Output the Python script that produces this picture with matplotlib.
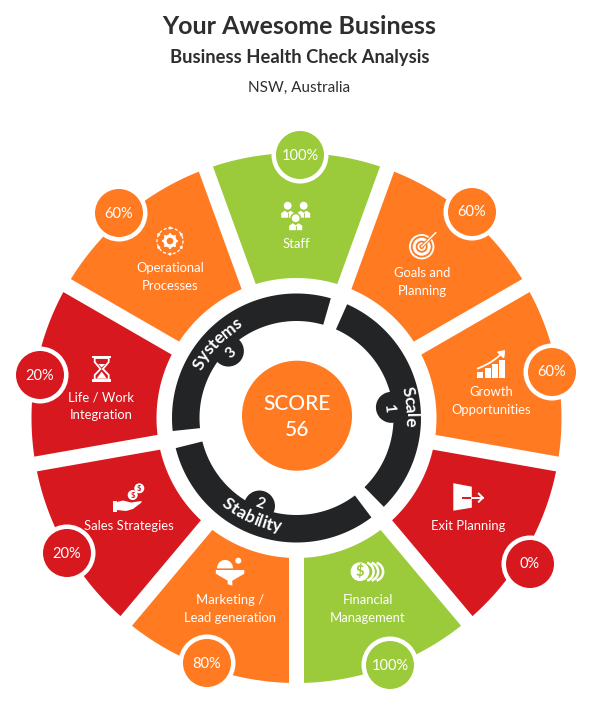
import numpy as np
import matplotlib
matplotlib.use('Agg')
import matplotlib.pyplot as plt
from matplotlib.patches import Circle, Polygon, Rectangle, Arc, FancyArrowPatch
from matplotlib.textpath import TextPath
from matplotlib.font_manager import FontProperties

plt.rcParams['font.family'] = ['Lato', 'DejaVu Sans']

title = 'Your Awesome Business'
subtitle = 'Business Health Check Analysis'
location = 'NSW, Australia'
score = 56

segment_names = ['Staff', 'Goals and\nPlanning', 'Growth\nOpportunities', 'Exit Planning',
                 'Financial\nManagement', 'Marketing /\nLead generation', 'Sales Strategies',
                 'Life / Work\nIntegration', 'Operational\nProcesses']
segment_scores = [100, 60, 60, 0, 100, 80, 20, 20, 60]
ring_names = ['Scale', 'Stability', 'Systems']
ring_numbers = ['1', '2', '3']

ORANGE = '#FF7A21'
GREEN = '#9BCB3B'
RED = '#D7181F'
DARK = '#222426'
TXT = '#2E2E2E'

# layout in pixels
cx, cy = 296.5, 418
label_pos = [(296, 244), (422, 282), (491, 401.5), (468, 526), (368, 608.5),
             (230, 608.5), (129, 526), (101.5, 406), (170.5, 277)]
badge_pos = [(300, 155), (472, 212), (552, 372), (530, 564), (390, 665),
             (207, 663), (67, 553), (40, 375), (119, 213)]
ring_spans = [(24, 135.5), (143, 256), (264, 376)]
ring_text_ang = [84, 204.5, 313]
ring_text_r = [114, 110, 111]
bump_ang = [83.6, 202.8, 314.5]


def pt(r, ang):
    a = np.radians(ang)
    return cx + r * np.sin(a), cy - r * np.cos(a)


def colour_for(v):
    if v <= 20:
        return RED
    if v <= 80:
        return ORANGE
    return GREEN


fig = plt.figure(figsize=(5.96, 7.10), dpi=100)
ax = fig.add_axes([0, 0, 1, 1])
ax.set_xlim(0, 596)
ax.set_ylim(710, 0)
ax.axis('off')

ax.text(299.5, 26.5, title, ha='center', va='center', fontsize=18, fontweight='bold', color=TXT)
ax.text(299.5, 58, subtitle, ha='center', va='center', fontsize=13.2, fontweight='bold', color=TXT)
ax.text(299.5, 88, location, ha='center', va='center', fontsize=11, color=TXT)

# outer segments, gaps between them keep a constant width
R_out, R_in, gap = 265, 140, 7.5
for i, v in enumerate(segment_scores):
    c = i * 40
    a_o = 20 - np.degrees(np.arcsin(gap / R_out))
    a_i = 20 - np.degrees(np.arcsin(gap / R_in))
    outer = [pt(R_out, t) for t in np.linspace(c - a_o, c + a_o, 40)]
    inner = [pt(R_in, t) for t in np.linspace(c + a_i, c - a_i, 30)]
    ax.add_patch(Polygon(outer + inner, closed=True, fc=colour_for(v), ec='none', zorder=1))

for i, name in enumerate(segment_names):
    x, y = label_pos[i]
    ax.text(x, y, name, ha='center', va='center', fontsize=9.4, color='white',
            linespacing=1.6, zorder=3)

for i, v in enumerate(segment_scores):
    x, y = badge_pos[i]
    ax.add_patch(Circle((x, y), 28.5, fc='white', ec='none', zorder=4))
    ax.add_patch(Circle((x, y), 24, fc=colour_for(v), ec='none', zorder=5))
    ax.text(x, y + 0.5, f'{v}%', ha='center', va='center', fontsize=10.5, color='white', zorder=6)

# black ring
rr_out, rr_in = 124.5, 97
for a0, a1 in ring_spans:
    outer = [pt(rr_out, t) for t in np.linspace(a0, a1, 80)]
    inner = [pt(rr_in, t) for t in np.linspace(a1, a0, 80)]
    ax.add_patch(Polygon(outer + inner, closed=True, fc=DARK, ec='none', zorder=2))


def curved_text(s, mid_ang, r, clockwise=True, size=12.5):
    # lay the letters out one by one along the ring
    prop = FontProperties(family='Lato', weight='bold')
    px = size * 100 / 72
    right = [TextPath((0, 0), s[:k + 1], size=px, prop=prop).get_extents().x1 for k in range(len(s))]
    total = right[-1]
    for k, ch in enumerate(s):
        w = TextPath((0, 0), ch, size=px, prop=prop).get_extents().width
        off = right[k] - w / 2 - total / 2
        d = np.degrees(off / r)
        if clockwise:
            ang = mid_ang + d
            rot = -ang
        else:
            ang = mid_ang - d
            rot = 180 - ang
        x, y = pt(r, ang)
        ax.text(x, y, ch, ha='center', va='center', rotation=rot, rotation_mode='anchor',
                fontsize=size, fontweight='bold', color='white', zorder=7)


curved_text(ring_names[0], ring_text_ang[0], ring_text_r[0])
curved_text(ring_names[1], ring_text_ang[1], ring_text_r[1], clockwise=False)
curved_text(ring_names[2], ring_text_ang[2], ring_text_r[2])

num_rot = [-84, -20, 43]
num_off = [93, 93, 92]
for i, n in enumerate(ring_numbers):
    x, y = pt(95.5, bump_ang[i])
    ax.add_patch(Circle((x, y), 15.5, fc=DARK, ec='none', zorder=2))
    nx, ny = pt(num_off[i], bump_ang[i])
    ax.text(nx, ny, n, ha='center', va='center', rotation=num_rot[i], rotation_mode='anchor',
            fontsize=11, fontweight='bold', color='white', zorder=7)

# score
ax.add_patch(Circle((297, 415.7), 55, fc=ORANGE, ec='none', zorder=2))
ax.text(297, 404.5, 'SCORE', ha='center', va='center', fontsize=15, fontweight='medium', color='white', zorder=3)
ax.text(297, 429.5, str(score), ha='center', va='center', fontsize=15, fontweight='medium', color='white', zorder=3)


# icons
def disc(x, y, r, c='white', z=3):
    ax.add_patch(Circle((x, y), r, fc=c, ec='none', zorder=z))


def person(x, y, bg):
    disc(x, y, 3.9)
    body = [(x - 6.5, y + 12), (x - 6.5, y + 7.5), (x - 3, y + 5), (x, y + 7), (x + 3, y + 5),
            (x + 6.5, y + 7.5), (x + 6.5, y + 12)]
    ax.add_patch(Polygon(body, fc='white', ec='none', zorder=3))
    ax.plot([x, x], [y + 7.5, y + 12], color=bg, lw=0.6, zorder=3)


def icon_staff(x, y, bg):
    person(x - 8, y - 11, bg)
    person(x + 8, y - 11, bg)
    disc(x, y + 1.5, 5.5, bg)
    ax.add_patch(Rectangle((x - 8, y + 5), 16, 9, fc=bg, ec='none', zorder=3))
    person(x, y + 1.5, bg)


def icon_target(x, y, bg):
    for r, c in [(12.7, 'white'), (10.8, bg), (9, 'white'), (6, bg), (4.2, 'white'), (2.2, bg)]:
        disc(x, y, r, c)
    ax.plot([x, x + 13], [y, y - 13], color=bg, lw=2.6, zorder=3)
    ax.plot([x, x + 14], [y, y - 14], color='white', lw=1.1, zorder=3)


def icon_gear(x, y, bg):
    ax.add_patch(Circle((x, y), 13, fc='none', ec='white', lw=0.9, ls=(0, (2.5, 1.5)), zorder=3))
    for t in range(0, 360, 60):
        px, py = x + 13 * np.sin(np.radians(t)), y - 13 * np.cos(np.radians(t))
        disc(px, py, 1.5)
    ax.add_patch(Circle((x, y), 5, fc='none', ec='white', lw=2.4, zorder=3))
    for t in range(0, 360, 45):
        px, py = x + 7 * np.sin(np.radians(t)), y - 7 * np.cos(np.radians(t))
        disc(px, py, 1.1)


def icon_growth(x, y, bg):
    offs = [(-14.4, 6.7), (-6.7, 3.3), (0.6, -1), (7.6, -5)]
    for dx, top in offs:
        ax.add_patch(Rectangle((x + dx, y + top), 5.6, 13.3 - top, fc='white', ec='none', zorder=3))
    ax.add_patch(FancyArrowPatch((x - 14, y + 3.5), (x + 13.5, y - 15), connectionstyle='arc3,rad=0.12',
                                 arrowstyle='-|>,head_length=3.5,head_width=2.6', color='white',
                                 lw=1.3, shrinkA=0, shrinkB=0, zorder=3))


def icon_exit(x, y, bg):
    door = [(x - 10, y - 14.5), (x + 8.5, y - 11), (x + 8.5, y + 10), (x - 10, y + 13)]
    ax.add_patch(Polygon(door, fc='white', ec='none', zorder=3))
    ax.plot([x - 1, x + 8.5], [y, y], color=bg, lw=1.4, zorder=3, solid_capstyle='butt')
    ax.plot([x + 8.5, x + 19.5], [y, y], color='white', lw=1.4, zorder=3)
    ax.plot([x + 15.5, x + 19.5, x + 15.5], [y - 4, y, y + 4], color='white', lw=1.4, zorder=3)


def icon_money(x, y, bg):
    disc(x - 6.7, y, 9.4)
    ax.text(x - 6.7, y - 0.3, '$', ha='center', va='center', fontsize=10.5, fontweight='bold', color=bg, zorder=4)
    for dx in [-2.5, 2, 7]:
        ax.add_patch(Arc((x + dx, y), 18.8, 18.8, theta1=-72, theta2=72, ec='white', lw=1.8, zorder=3))


def icon_hourglass(x, y, bg):
    ax.add_patch(Rectangle((x - 9.7, y - 13.5), 19.4, 2.6, fc='white', ec='none', zorder=3))
    ax.add_patch(Rectangle((x - 9.7, y + 10.2), 19.4, 2.5, fc='white', ec='none', zorder=3))
    glass = [(x - 7, y - 11), (x - 7, y - 7), (x - 1.2, y), (x - 7, y + 6), (x - 7, y + 10.5),
             (x + 7, y + 10.5), (x + 7, y + 6), (x + 1.2, y), (x + 7, y - 7), (x + 7, y - 11)]
    ax.add_patch(Polygon(glass, fc='none', ec='white', lw=1.3, zorder=3))
    ax.add_patch(Polygon([(x - 5, y + 9.5), (x, y + 2.5), (x + 5, y + 9.5)], fc='white', ec='none', zorder=3))
    ax.add_patch(Polygon([(x - 3.5, y - 5), (x + 3.5, y - 5), (x, y - 1.5)], fc='white', ec='none', zorder=3))


def icon_hand(x, y, bg):
    ax.add_patch(Rectangle((x - 15.5, y + 3), 4, 10.5, fc='white', ec='none', zorder=3))
    hand = [(x - 11, y + 4), (x - 5, y + 2.5), (x + 3, y + 4.5), (x + 13.5, y + 3), (x + 13.5, y + 4.5),
            (x + 5, y + 11), (x - 2, y + 13), (x - 11, y + 12)]
    ax.add_patch(Polygon(hand, fc='white', ec='none', zorder=3))
    for dx, dy in [(4.7, -3), (11.3, -9.7)]:
        disc(x + dx, y + dy, 5)
        ax.text(x + dx, y + dy, '$', ha='center', va='center', fontsize=5.5, fontweight='bold', color=bg, zorder=4)


def icon_funnel(x, y, bg):
    top = [(x - 14.2, y - 1.7), (x + 14.3, y - 1.7), (x + 14.3, y + 2), (x + 2.3, y + 9), (x + 2.3, y + 14),
           (x - 2.3, y + 12.5), (x - 2.3, y + 9), (x - 14.2, y + 2)]
    ax.add_patch(Polygon(top, fc='white', ec='none', zorder=3))
    t = np.radians(np.linspace(180, 360, 30))
    dome = np.column_stack([x - 5 + 8 * np.cos(t), y - 3.3 + 8.5 * np.sin(t)])
    ax.add_patch(Polygon(dome, fc='white', ec='none', zorder=3))
    disc(x + 8.3, y - 11, 3)


icon_staff(295.7, 216.7, GREEN)
icon_target(421.7, 246.7, ORANGE)
icon_growth(491.7, 365, ORANGE)
icon_exit(463.3, 497.7, RED)
icon_money(366.7, 571.7, GREEN)
icon_funnel(230, 571.7, ORANGE)
icon_hand(128, 498, RED)
icon_hourglass(101.7, 369, RED)
icon_gear(170, 241, ORANGE)

fig.savefig('out.png', dpi=100, facecolor='white')
